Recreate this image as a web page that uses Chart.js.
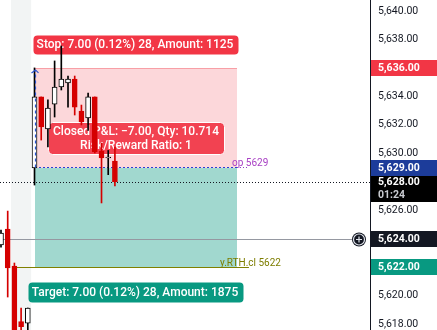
<!DOCTYPE html>
<html>
<head>
<meta charset="utf-8">
<script src="https://cdn.jsdelivr.net/npm/chart.js@4.4.1/dist/chart.umd.min.js"></script>
<style>
html, body { margin: 0; padding: 0; background: #fff; }
#wrap { width: 437px; height: 330px; position: relative; }
</style>
</head>
<body>
<div id="wrap"><canvas id="chart"></canvas></div>
<script>
// candles, one per bar index (oldest first)
var opens  = [5623.56, 5624.68, 5622.08, 5618.17, 5618.07, 5628.97, 5633.96, 5631.71, 5633.46, 5634.66, 5634.94, 5635.22, 5632.97, 5632.48, 5633.96, 5630.16, 5629.67, 5629.46]
var highs  = [5624.60, 5625.94, 5622.29, 5619.13, 5619.13, 5636.00, 5633.96, 5633.75, 5636.49, 5637.54, 5635.43, 5635.43, 5633.39, 5634.24, 5633.96, 5630.72, 5630.20, 5630.44]
var lows   = [5623.40, 5619.90, 5617.30, 5617.30, 5617.10, 5627.77, 5630.93, 5630.44, 5632.55, 5634.45, 5633.25, 5632.69, 5631.99, 5631.60, 5630.02, 5626.51, 5628.50, 5627.70]
var closes = [5624.40, 5621.94, 5617.50, 5617.81, 5619.13, 5633.96, 5631.85, 5633.18, 5634.66, 5635.22, 5635.22, 5633.25, 5632.20, 5633.96, 5630.09, 5629.67, 5629.67, 5628.00]

// bars that fall in the shaded (extended hours) session
var shadedBars = [2, 3, 4]

// price scale labels
var priceTicks = [5618, 5620, 5622, 5624, 5626, 5628, 5630, 5632, 5634, 5636, 5638, 5640]

// long/short position tool
var entryBar = 5
var toolEndBar = 35.2
var entryPrice = 5629
var stopPrice = 5636
var targetPrice = 5622
var stopText = 'Stop: 7.00 (0.12%) 28, Amount: 1125'
var targetText = 'Target: 7.00 (0.12%) 28, Amount: 1875'
var pnlText = ['Closed P&L: \u22127.00, Qty: 10.714', 'Risk/Reward Ratio: 1']

// other horizontal levels
var lastPrice = 5628
var lastCountdown = '01:24'
var crossPrice = 5624
var rthClosePrice = 5622
var opLabel = 'op 5629'
var rthLabel = 'y.RTH.cl 5622'

var RED = '#d50000'
var fmt = function (v) {
  return v.toLocaleString('en-US', { minimumFractionDigits: 2, maximumFractionDigits: 2 })
}

var idx = opens.map(function (o, i) { return i })
var isUp = idx.map(function (i) { return closes[i] >= opens[i] })

function roundRect(ctx, x, y, w, h, r) {
  ctx.beginPath()
  ctx.moveTo(x + r, y)
  ctx.arcTo(x + w, y, x + w, y + h, r)
  ctx.arcTo(x + w, y + h, x, y + h, r)
  ctx.arcTo(x, y + h, x, y, r)
  ctx.arcTo(x, y, x + w, y, r)
  ctx.closePath()
}

function label(ctx, lines, cx, cy, w, h, bg, border) {
  roundRect(ctx, Math.round(cx - w / 2) + 0.5, Math.round(cy - h / 2) + 0.5, w, h, 4)
  ctx.fillStyle = bg
  ctx.fill()
  if (border) {
    ctx.strokeStyle = border
    ctx.lineWidth = 1
    ctx.stroke()
  }
  ctx.fillStyle = '#fff'
  ctx.font = '500 12px Roboto'
  ctx.textAlign = 'center'
  ctx.textBaseline = 'middle'
  var lh = 14
  lines.forEach(function (t, k) {
    ctx.fillText(t, cx, cy + (k - (lines.length - 1) / 2) * lh + 0.5)
  })
}

function hline(ctx, x1, x2, y, color, dash) {
  ctx.beginPath()
  ctx.setLineDash(dash || [])
  ctx.strokeStyle = color
  ctx.lineWidth = 1
  y = Math.round(y) + 0.5
  ctx.moveTo(x1, y)
  ctx.lineTo(x2, y)
  ctx.stroke()
  ctx.setLineDash([])
}

var overlay = {
  id: 'overlay',
  beforeDatasetsDraw: function (chart) {
    var ctx = chart.ctx, xs = chart.scales.x, ys = chart.scales.y, a = chart.chartArea
    ctx.save()
    ctx.beginPath()
    ctx.rect(a.left, a.top, a.right - a.left, a.bottom - a.top)
    ctx.clip()

    // session shading
    var s0 = xs.getPixelForValue(shadedBars[0] - 0.5)
    var s1 = xs.getPixelForValue(shadedBars[shadedBars.length - 1] + 0.5)
    ctx.fillStyle = '#f2f4f4'
    ctx.fillRect(s0, a.top, s1 - s0, a.bottom - a.top)

    // position tool zones
    var xL = Math.round(xs.getPixelForValue(entryBar)), xR = Math.round(xs.getPixelForValue(toolEndBar))
    var yE = Math.round(ys.getPixelForValue(entryPrice)), yS = Math.round(ys.getPixelForValue(stopPrice)), yT = Math.round(ys.getPixelForValue(targetPrice))
    ctx.fillStyle = 'rgba(242, 54, 69, 0.2)'
    ctx.fillRect(xL, yS, xR - xL, yE - yS)
    ctx.fillStyle = 'rgba(8, 153, 129, 0.38)'
    ctx.fillRect(xL, yE, xR - xL, yT - yE)
    hline(ctx, xL, xR, yS, 'rgba(242, 54, 69, 0.35)')

    // levels
    var xEnd = xs.getPixelForValue(toolEndBar + 1.8)
    hline(ctx, xs.getPixelForValue(2.3), xEnd, ys.getPixelForValue(rthClosePrice), '#808000')
    hline(ctx, a.left, a.right - 18, ys.getPixelForValue(crossPrice), '#9598a1')
    hline(ctx, a.left, a.right, ys.getPixelForValue(lastPrice), '#131722', [1, 2])
    hline(ctx, xL, xR, yE - 1, '#2a3fd6', [2, 2])
    hline(ctx, xR, xEnd, yE - 1, '#8e44c4', [1, 2])

    ctx.font = '10px Roboto'
    ctx.textAlign = 'left'
    ctx.textBaseline = 'alphabetic'
    ctx.fillStyle = '#a83fc4'
    ctx.fillText(opLabel, xR - 5, yE - 2)
    ctx.fillStyle = '#7d7d00'
    ctx.fillText(rthLabel, xR - 17, ys.getPixelForValue(rthClosePrice) - 1)

    // tool labels
    var cx = (xL + xR) / 2
    label(ctx, [stopText], cx - 1, yS - 24, 205, 19, '#f23645')
    label(ctx, [targetText], cx - 1, yT + 25, 215, 20, '#089981')
    label(ctx, pnlText, cx, yE - 30, 176, 32, 'rgba(242, 54, 69, 0.92)', '#ffffff')
    ctx.restore()
  },
  afterDatasetsDraw: function (chart) {
    var ctx = chart.ctx, xs = chart.scales.x, ys = chart.scales.y
    // dashed arrow drawn on the entry bar
    var x = Math.round(xs.getPixelForValue(entryBar)) + 0.5
    var y0 = ys.getPixelForValue(entryPrice), y1 = ys.getPixelForValue(stopPrice) + 2
    ctx.save()
    ctx.strokeStyle = '#2a55d0'
    ctx.lineWidth = 1.2
    ctx.setLineDash([3, 3])
    ctx.beginPath()
    ctx.moveTo(x, y0)
    ctx.lineTo(x, y1)
    ctx.stroke()
    ctx.setLineDash([])
    ctx.beginPath()
    ctx.moveTo(x - 4, y1 + 3)
    ctx.lineTo(x, y1)
    ctx.lineTo(x + 3, y1 + 3)
    ctx.stroke()
    ctx.restore()
  },
  afterDraw: function (chart) {
    var ctx = chart.ctx, ys = chart.scales.y, a = chart.chartArea
    var W = chart.width
    ctx.save()
    // price axis border
    ctx.strokeStyle = '#131722'
    ctx.lineWidth = 1
    ctx.beginPath()
    ctx.moveTo(Math.round(a.right) + 0.5, 0)
    ctx.lineTo(Math.round(a.right) + 0.5, chart.height)
    ctx.stroke()

    function tag(price, bg, extra) {
      var y = Math.round(ys.getPixelForValue(price))
      var h = extra ? 28 : 16
      ctx.fillStyle = bg
      ctx.fillRect(a.right + 1, y - 8, W - a.right - 1, h)
      ctx.fillStyle = '#fff'
      ctx.font = 'bold 10.5px Roboto'
      ctx.textAlign = 'left'
      ctx.textBaseline = 'middle'
      ctx.fillText(fmt(price), a.right + 8, y + 0.5)
      if (extra) {
        ctx.fillStyle = '#c9cbd1'
        ctx.fillText(extra, a.right + 8, y + 13)
      }
    }
    tag(stopPrice, '#f23645')
    tag(targetPrice, '#089981')
    tag(crossPrice, '#131722')
    tag(lastPrice, '#000000', lastCountdown)
    tag(entryPrice, '#1c3c9a')

    // crosshair "+" button
    var cy = Math.round(ys.getPixelForValue(crossPrice)) + 0.5, bx = a.right - 11
    ctx.beginPath()
    ctx.arc(bx, cy, 7, 0, Math.PI * 2)
    ctx.fillStyle = '#131722'
    ctx.fill()
    ctx.beginPath()
    ctx.arc(bx, cy, 5.5, 0, Math.PI * 2)
    ctx.strokeStyle = '#e0e3eb'
    ctx.lineWidth = 1.2
    ctx.stroke()
    ctx.beginPath()
    ctx.moveTo(bx - 3, cy); ctx.lineTo(bx + 3, cy)
    ctx.moveTo(bx, cy - 3); ctx.lineTo(bx, cy + 3)
    ctx.stroke()
    ctx.restore()
  }
}

var wickData = idx.map(function (i) { return { x: i, y: [lows[i], highs[i]] } })
var bodyData = idx.map(function (i) { return { x: i, y: [opens[i], closes[i]] } })

new Chart(document.getElementById('chart'), {
  type: 'bar',
  data: {
    datasets: [
      {
        label: 'wicks',
        data: wickData,
        backgroundColor: isUp.map(function (u) { return u ? '#000000' : RED }),
        barThickness: 1,
        grouped: false,
        order: 2
      },
      {
        label: 'bodies',
        data: bodyData,
        backgroundColor: isUp.map(function (u) { return u ? '#ffffff' : RED }),
        borderColor: isUp.map(function (u) { return u ? '#000000' : RED }),
        borderWidth: 1,
        borderSkipped: false,
        barThickness: 5,
        minBarLength: 1,
        grouped: false,
        order: 1
      }
    ]
  },
  options: {
    responsive: true,
    maintainAspectRatio: false,
    animation: false,
    layout: { padding: 0 },
    plugins: { legend: { display: false }, tooltip: { enabled: false } },
    scales: {
      x: {
        type: 'linear',
        display: false,
        offset: false,
        min: -0.15,
        max: 55.07
      },
      y: {
        position: 'right',
        min: 5617.583,
        max: 5640.773,
        grid: { display: false, drawTicks: false },
        border: { display: false },
        afterBuildTicks: function (s) {
          s.ticks = priceTicks.map(function (v) { return { value: v } })
        },
        afterFit: function (s) {
          s.width = 67
          s.paddingTop = 0
          s.paddingBottom = 0
        },
        ticks: {
          padding: 8,
          color: '#131722',
          font: { family: 'Roboto', size: 10.5 },
          callback: function (v) { return fmt(v) }
        }
      }
    }
  },
  plugins: [overlay]
})
</script>
</body>
</html>
